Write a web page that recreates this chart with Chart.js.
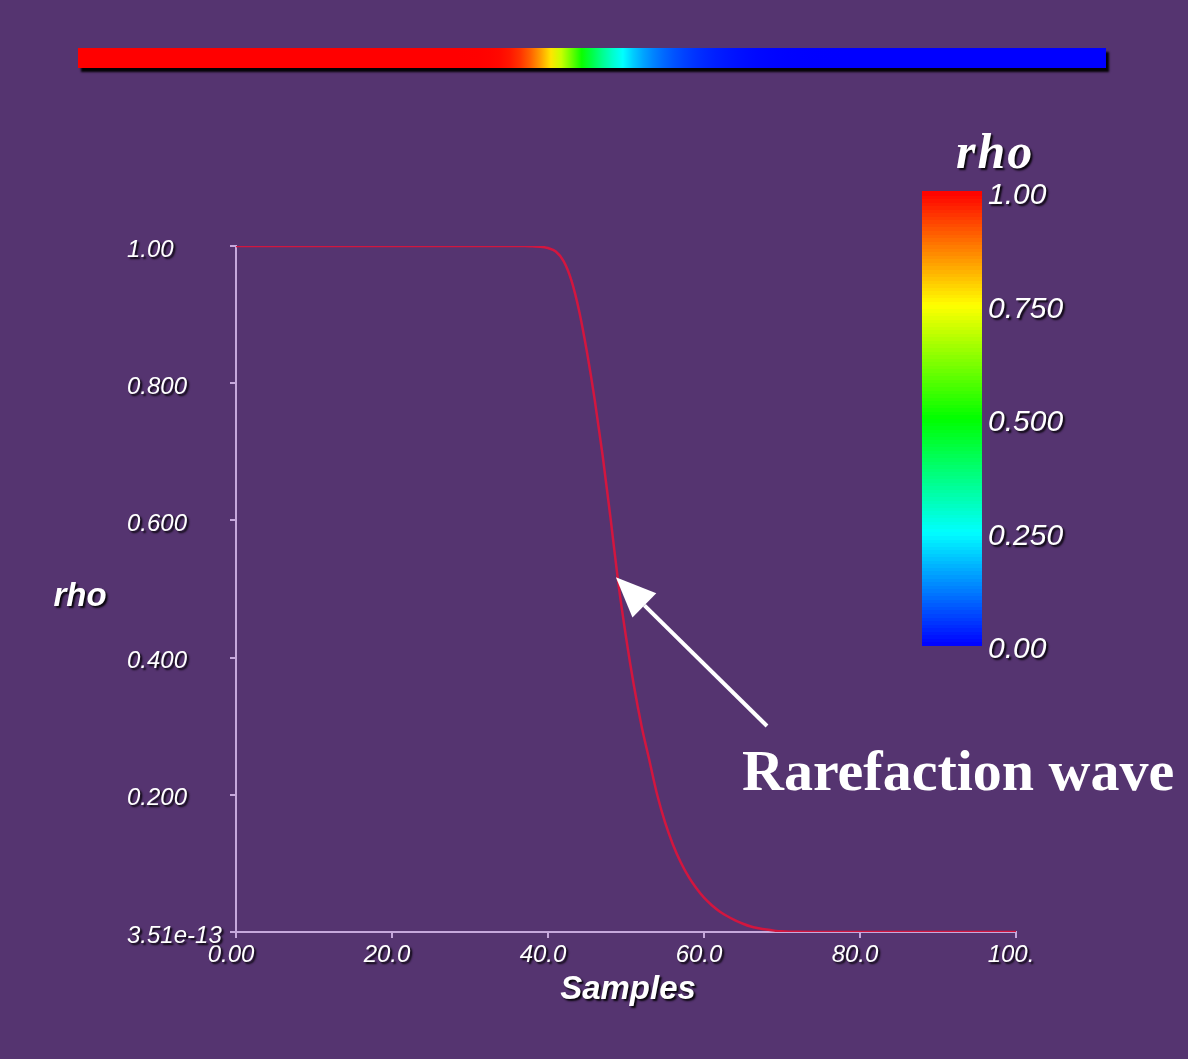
<!DOCTYPE html>
<html>
<head>
<meta charset="utf-8">
<title>rho</title>
<script src="https://cdn.jsdelivr.net/npm/chart.js@4/dist/chart.umd.min.js"></script>
<style>
  html, body { margin: 0; padding: 0; background: #553470; }
  #grafica { display: block; }
</style>
</head>
<body>
<canvas id="grafica" width="1188" height="1059"></canvas>
<script>
// Muestras a lo largo del tubo y densidad en cada una
const muestras = [0, 10, 20, 30, 35, 37, 38, 39, 40, 41, 42, 43, 44, 45, 46, 47, 48, 49, 50,
  51, 52, 53, 54, 55, 56, 57, 58, 59, 60, 61, 62, 63, 64, 65, 66, 67, 68, 69, 70, 71, 72, 75, 80, 90, 100];
const rho = [1, 1, 1, 1, 1, 1, 0.9995, 0.999, 0.997, 0.992, 0.978, 0.95, 0.905, 0.845, 0.775, 0.695, 0.605, 0.51, 0.43,
  0.36, 0.3, 0.25, 0.2, 0.16, 0.128, 0.102, 0.081, 0.064, 0.05, 0.039, 0.03, 0.023, 0.017, 0.012, 0.008, 0.0055,
  0.0035, 0.002, 0.001, 0.0005, 0.0002, 0, 0, 0, 0];

// Marcas de los ejes
const ticksX = [0, 20, 40, 60, 80, 100];
const etiquetasX = ["0.00", "20.0", "40.0", "60.0", "80.0", "100."];
const ticksY = [0, 0.2, 0.4, 0.6, 0.8, 1];
const etiquetasY = ["3.51e-13", "0.200", "0.400", "0.600", "0.800", "1.00"];

// Barra de colores
const valoresBarra = [0, 0.25, 0.5, 0.75, 1];
const etiquetasBarra = ["0.00", "0.250", "0.500", "0.750", "1.00"];

const colorEje = "#c6a8dc";
const fuente = "'Liberation Sans', Arial, sans-serif";

// rojo (1) -> amarillo -> verde -> cian -> azul (0)
function colorRho(v) {
  const h = (1 - v) * 240;
  return `hsl(${h}, 100%, 50%)`;
}

function sombra(ctx) {
  ctx.shadowColor = "rgba(0, 0, 0, 0.9)";
  ctx.shadowOffsetX = 2;
  ctx.shadowOffsetY = 2;
  ctx.shadowBlur = 2;
}

const extras = {
  id: "extras",
  afterDatasetsDraw(chart) {
    // las etiquetas de los ejes se dibujan despues, con sombra
    chart.ctx.save();
    sombra(chart.ctx);
  },
  afterDraw(chart) {
    const ctx = chart.ctx;
    ctx.restore();

    // tubo superior coloreado por rho
    const x0 = 78, x1 = 1106, yb = 48, hb = 20;
    const grad = ctx.createLinearGradient(x0, 0, x1, 0);
    muestras.forEach((m, i) => grad.addColorStop(m / 100, colorRho(rho[i])));
    ctx.save();
    ctx.shadowColor = "rgba(0, 0, 0, 0.95)";
    ctx.shadowOffsetX = 3;
    ctx.shadowOffsetY = 4;
    ctx.shadowBlur = 2;
    ctx.fillStyle = grad;
    ctx.fillRect(x0, yb, x1 - x0, hb);
    ctx.restore();

    // barra de colores
    const bx = 922, by = 191, bw = 60, bh = 454, n = 128;
    for (let k = 0; k < n; k++) {
      const v = (k + 0.5) / n;
      const y = by + bh - (k + 1) * bh / n;
      ctx.fillStyle = colorRho(v);
      ctx.fillRect(bx, Math.floor(y), bw, Math.ceil(bh / n) + 1);
    }

    ctx.save();
    sombra(ctx);
    ctx.fillStyle = "#ffffff";
    ctx.textBaseline = "middle";
    ctx.textAlign = "left";
    ctx.font = "italic 30px " + fuente;
    valoresBarra.forEach((v, i) => {
      ctx.fillText(etiquetasBarra[i], 988, by + bh * (1 - v) + 5);
    });

    ctx.textBaseline = "alphabetic";
    ctx.font = "italic bold 50px 'Liberation Serif', 'Times New Roman', serif";
    ctx.letterSpacing = "2px";
    ctx.fillText("rho", 956, 168);
    ctx.letterSpacing = "0px";

    // titulos de los ejes
    ctx.textAlign = "center";
    ctx.textBaseline = "middle";
    ctx.font = "italic bold 33px " + fuente;
    ctx.fillText("rho", 80, 597);
    ctx.fillText("Samples", 628, 990);
    ctx.restore();

    // flecha hacia la onda
    const sx = chart.scales.x, sy = chart.scales.y;
    const px = sx.getPixelForValue(48.7), py = sy.getPixelForValue(0.517);
    const tx = 767, ty = 726;
    const dx = px - tx, dy = py - ty, len = Math.hypot(dx, dy);
    const ux = dx / len, uy = dy / len;
    const cx = px - ux * 40, cy = py - uy * 40;
    ctx.save();
    ctx.strokeStyle = "#ffffff";
    ctx.fillStyle = "#ffffff";
    ctx.lineWidth = 4;
    ctx.beginPath();
    ctx.moveTo(tx, ty);
    ctx.lineTo(cx, cy);
    ctx.stroke();
    ctx.beginPath();
    ctx.moveTo(px, py);
    ctx.lineTo(cx - uy * 17, cy + ux * 17);
    ctx.lineTo(cx + uy * 17, cy - ux * 17);
    ctx.closePath();
    ctx.fill();

    ctx.font = "bold 58px 'Liberation Serif', 'Times New Roman', serif";
    ctx.textAlign = "left";
    ctx.textBaseline = "alphabetic";
    ctx.fillText("Rarefaction wave", 742, 790);
    ctx.restore();
  }
};

const puntos = muestras.map((m, i) => ({ x: m, y: rho[i] }));

new Chart(document.getElementById("grafica"), {
  type: "line",
  data: {
    datasets: [{
      label: "rho",
      data: puntos,
      borderColor: "#d2163f",
      borderWidth: 2.5,
      pointRadius: 0,
      cubicInterpolationMode: "monotone",
      fill: false
    }]
  },
  options: {
    responsive: false,
    animation: false,
    layout: { padding: { left: 127, top: 246, right: 172, bottom: 0 } },
    plugins: { legend: { display: false }, tooltip: { enabled: false } },
    scales: {
      x: {
        type: "linear",
        min: 0,
        max: 100,
        afterBuildTicks: s => { s.ticks = ticksX.map(v => ({ value: v })); },
        afterFit: s => { s.height = 127; },
        ticks: {
          callback: (v, i) => etiquetasX[i],
          color: "#ffffff",
          font: { family: fuente, style: "italic", size: 24 },
          padding: 3,
          labelOffset: -5,
          maxRotation: 0,
          autoSkip: false,
          z: 1
        },
        grid: { drawOnChartArea: false, drawTicks: true, tickLength: 6, color: colorEje, lineWidth: 2 },
        border: { display: true, color: colorEje, width: 2 }
      },
      y: {
        type: "linear",
        min: 0,
        max: 1,
        afterBuildTicks: s => { s.ticks = ticksY.map(v => ({ value: v })); },
        afterFit: s => { s.width = 109; },
        ticks: {
          callback: (v, i) => etiquetasY[i],
          color: "#ffffff",
          font: { family: fuente, style: "italic", size: 24 },
          crossAlign: "far",
          labelOffset: 4,
          autoSkip: false,
          z: 1
        },
        grid: { drawOnChartArea: false, drawTicks: true, tickLength: 6, color: colorEje, lineWidth: 2 },
        border: { display: true, color: colorEje, width: 2 }
      }
    }
  },
  plugins: [extras]
});
</script>
</body>
</html>
